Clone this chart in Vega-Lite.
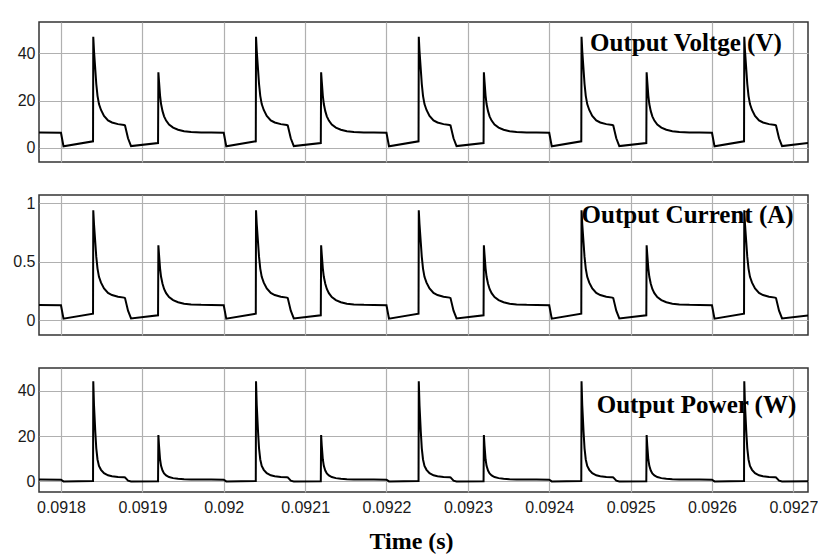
{
"$schema":"https://vega.github.io/schema/vega-lite/v6.json",
"padding":{"left":12,"top":21,"right":11,"bottom":6},
"background":"white",
"spacing":31,
"config":{
 "view":{"stroke":"#333333","strokeWidth":1.5},
 "axis":{"labelFont":"Liberation Sans","labelFontSize":16,"labelColor":"#1a1a1a","gridColor":"#b0b0b0","gridWidth":1.2,"gridOpacity":1,"domain":false,"ticks":false,"title":null}
},
"datasets":{"w":[
{"t":0.091773,"v":6.4,"i":0.128,"p":0.82},
{"t":0.0918,"v":6.3,"i":0.126,"p":0.79},{"t":0.0918031,"v":0.6,"i":0.012,"p":0.007},{"t":0.0918394,"v":2.7,"i":0.054,"p":0.146},{"t":0.0918397,"v":47,"i":0.94,"p":44.18},{"t":0.0918406,"v":41,"i":0.82,"p":33.62},{"t":0.0918422,"v":33,"i":0.66,"p":21.78},{"t":0.0918434,"v":27,"i":0.54,"p":14.58},{"t":0.0918449,"v":22,"i":0.44,"p":9.68},{"t":0.0918467,"v":18.5,"i":0.37,"p":6.85},{"t":0.0918492,"v":16,"i":0.32,"p":5.12},{"t":0.0918529,"v":13.5,"i":0.27,"p":3.65},{"t":0.0918578,"v":11.6,"i":0.232,"p":2.69},{"t":0.0918627,"v":10.7,"i":0.214,"p":2.29},{"t":0.0918701,"v":10,"i":0.2,"p":2},{"t":0.0918775,"v":9.6,"i":0.192,"p":1.84},{"t":0.0918787,"v":9.4,"i":0.188,"p":1.77},{"t":0.0918824,"v":4,"i":0.08,"p":0.32},{"t":0.0918861,"v":0.7,"i":0.014,"p":0.01},{"t":0.0919193,"v":2,"i":0.04,"p":0.08},{"t":0.0919197,"v":32,"i":0.64,"p":20.48},{"t":0.0919205,"v":28,"i":0.56,"p":15.68},{"t":0.0919218,"v":22,"i":0.44,"p":9.68},{"t":0.091923,"v":18.5,"i":0.37,"p":6.85},{"t":0.0919248,"v":15.5,"i":0.31,"p":4.81},{"t":0.0919267,"v":13.3,"i":0.266,"p":3.54},{"t":0.0919292,"v":11.5,"i":0.23,"p":2.65},{"t":0.0919328,"v":9.8,"i":0.196,"p":1.92},{"t":0.0919378,"v":8.5,"i":0.17,"p":1.45},{"t":0.0919439,"v":7.6,"i":0.152,"p":1.16},{"t":0.0919513,"v":7,"i":0.14,"p":0.98},{"t":0.0919599,"v":6.7,"i":0.134,"p":0.9},{"t":0.0919722,"v":6.5,"i":0.13,"p":0.85},{"t":0.0919845,"v":6.4,"i":0.128,"p":0.82},
{"t":0.092,"v":6.3,"i":0.126,"p":0.79},{"t":0.0920031,"v":0.6,"i":0.012,"p":0.007},{"t":0.0920394,"v":2.7,"i":0.054,"p":0.146},{"t":0.0920397,"v":47,"i":0.94,"p":44.18},{"t":0.0920406,"v":41,"i":0.82,"p":33.62},{"t":0.0920422,"v":33,"i":0.66,"p":21.78},{"t":0.0920434,"v":27,"i":0.54,"p":14.58},{"t":0.0920449,"v":22,"i":0.44,"p":9.68},{"t":0.0920467,"v":18.5,"i":0.37,"p":6.85},{"t":0.0920492,"v":16,"i":0.32,"p":5.12},{"t":0.0920529,"v":13.5,"i":0.27,"p":3.65},{"t":0.0920578,"v":11.6,"i":0.232,"p":2.69},{"t":0.0920627,"v":10.7,"i":0.214,"p":2.29},{"t":0.0920701,"v":10,"i":0.2,"p":2},{"t":0.0920775,"v":9.6,"i":0.192,"p":1.84},{"t":0.0920787,"v":9.4,"i":0.188,"p":1.77},{"t":0.0920824,"v":4,"i":0.08,"p":0.32},{"t":0.0920861,"v":0.7,"i":0.014,"p":0.01},{"t":0.0921193,"v":2,"i":0.04,"p":0.08},{"t":0.0921197,"v":32,"i":0.64,"p":20.48},{"t":0.0921205,"v":28,"i":0.56,"p":15.68},{"t":0.0921218,"v":22,"i":0.44,"p":9.68},{"t":0.092123,"v":18.5,"i":0.37,"p":6.85},{"t":0.0921248,"v":15.5,"i":0.31,"p":4.81},{"t":0.0921267,"v":13.3,"i":0.266,"p":3.54},{"t":0.0921292,"v":11.5,"i":0.23,"p":2.65},{"t":0.0921328,"v":9.8,"i":0.196,"p":1.92},{"t":0.0921378,"v":8.5,"i":0.17,"p":1.45},{"t":0.0921439,"v":7.6,"i":0.152,"p":1.16},{"t":0.0921513,"v":7,"i":0.14,"p":0.98},{"t":0.0921599,"v":6.7,"i":0.134,"p":0.9},{"t":0.0921722,"v":6.5,"i":0.13,"p":0.85},{"t":0.0921845,"v":6.4,"i":0.128,"p":0.82},
{"t":0.0922,"v":6.3,"i":0.126,"p":0.79},{"t":0.0922031,"v":0.6,"i":0.012,"p":0.007},{"t":0.0922394,"v":2.7,"i":0.054,"p":0.146},{"t":0.0922397,"v":47,"i":0.94,"p":44.18},{"t":0.0922406,"v":41,"i":0.82,"p":33.62},{"t":0.0922422,"v":33,"i":0.66,"p":21.78},{"t":0.0922434,"v":27,"i":0.54,"p":14.58},{"t":0.0922449,"v":22,"i":0.44,"p":9.68},{"t":0.0922467,"v":18.5,"i":0.37,"p":6.85},{"t":0.0922492,"v":16,"i":0.32,"p":5.12},{"t":0.0922529,"v":13.5,"i":0.27,"p":3.65},{"t":0.0922578,"v":11.6,"i":0.232,"p":2.69},{"t":0.0922627,"v":10.7,"i":0.214,"p":2.29},{"t":0.0922701,"v":10,"i":0.2,"p":2},{"t":0.0922775,"v":9.6,"i":0.192,"p":1.84},{"t":0.0922787,"v":9.4,"i":0.188,"p":1.77},{"t":0.0922824,"v":4,"i":0.08,"p":0.32},{"t":0.0922861,"v":0.7,"i":0.014,"p":0.01},{"t":0.0923193,"v":2,"i":0.04,"p":0.08},{"t":0.0923197,"v":32,"i":0.64,"p":20.48},{"t":0.0923205,"v":28,"i":0.56,"p":15.68},{"t":0.0923218,"v":22,"i":0.44,"p":9.68},{"t":0.092323,"v":18.5,"i":0.37,"p":6.85},{"t":0.0923248,"v":15.5,"i":0.31,"p":4.81},{"t":0.0923267,"v":13.3,"i":0.266,"p":3.54},{"t":0.0923292,"v":11.5,"i":0.23,"p":2.65},{"t":0.0923328,"v":9.8,"i":0.196,"p":1.92},{"t":0.0923378,"v":8.5,"i":0.17,"p":1.45},{"t":0.0923439,"v":7.6,"i":0.152,"p":1.16},{"t":0.0923513,"v":7,"i":0.14,"p":0.98},{"t":0.0923599,"v":6.7,"i":0.134,"p":0.9},{"t":0.0923722,"v":6.5,"i":0.13,"p":0.85},{"t":0.0923845,"v":6.4,"i":0.128,"p":0.82},
{"t":0.0924,"v":6.3,"i":0.126,"p":0.79},{"t":0.0924031,"v":0.6,"i":0.012,"p":0.007},{"t":0.0924394,"v":2.7,"i":0.054,"p":0.146},{"t":0.0924397,"v":47,"i":0.94,"p":44.18},{"t":0.0924406,"v":41,"i":0.82,"p":33.62},{"t":0.0924422,"v":33,"i":0.66,"p":21.78},{"t":0.0924434,"v":27,"i":0.54,"p":14.58},{"t":0.0924449,"v":22,"i":0.44,"p":9.68},{"t":0.0924467,"v":18.5,"i":0.37,"p":6.85},{"t":0.0924492,"v":16,"i":0.32,"p":5.12},{"t":0.0924529,"v":13.5,"i":0.27,"p":3.65},{"t":0.0924578,"v":11.6,"i":0.232,"p":2.69},{"t":0.0924627,"v":10.7,"i":0.214,"p":2.29},{"t":0.0924701,"v":10,"i":0.2,"p":2},{"t":0.0924775,"v":9.6,"i":0.192,"p":1.84},{"t":0.0924787,"v":9.4,"i":0.188,"p":1.77},{"t":0.0924824,"v":4,"i":0.08,"p":0.32},{"t":0.0924861,"v":0.7,"i":0.014,"p":0.01},{"t":0.0925193,"v":2,"i":0.04,"p":0.08},{"t":0.0925197,"v":32,"i":0.64,"p":20.48},{"t":0.0925205,"v":28,"i":0.56,"p":15.68},{"t":0.0925218,"v":22,"i":0.44,"p":9.68},{"t":0.092523,"v":18.5,"i":0.37,"p":6.85},{"t":0.0925248,"v":15.5,"i":0.31,"p":4.81},{"t":0.0925267,"v":13.3,"i":0.266,"p":3.54},{"t":0.0925292,"v":11.5,"i":0.23,"p":2.65},{"t":0.0925328,"v":9.8,"i":0.196,"p":1.92},{"t":0.0925378,"v":8.5,"i":0.17,"p":1.45},{"t":0.0925439,"v":7.6,"i":0.152,"p":1.16},{"t":0.0925513,"v":7,"i":0.14,"p":0.98},{"t":0.0925599,"v":6.7,"i":0.134,"p":0.9},{"t":0.0925722,"v":6.5,"i":0.13,"p":0.85},{"t":0.0925845,"v":6.4,"i":0.128,"p":0.82},
{"t":0.0926,"v":6.3,"i":0.126,"p":0.79},{"t":0.0926031,"v":0.6,"i":0.012,"p":0.007},{"t":0.0926394,"v":2.7,"i":0.054,"p":0.146},{"t":0.0926397,"v":47,"i":0.94,"p":44.18},{"t":0.0926406,"v":41,"i":0.82,"p":33.62},{"t":0.0926422,"v":33,"i":0.66,"p":21.78},{"t":0.0926434,"v":27,"i":0.54,"p":14.58},{"t":0.0926449,"v":22,"i":0.44,"p":9.68},{"t":0.0926467,"v":18.5,"i":0.37,"p":6.85},{"t":0.0926492,"v":16,"i":0.32,"p":5.12},{"t":0.0926529,"v":13.5,"i":0.27,"p":3.65},{"t":0.0926578,"v":11.6,"i":0.232,"p":2.69},{"t":0.0926627,"v":10.7,"i":0.214,"p":2.29},{"t":0.0926701,"v":10,"i":0.2,"p":2},{"t":0.0926775,"v":9.6,"i":0.192,"p":1.84},{"t":0.0926787,"v":9.4,"i":0.188,"p":1.77},{"t":0.0926824,"v":4,"i":0.08,"p":0.32},{"t":0.0926861,"v":0.7,"i":0.014,"p":0.01},{"t":0.092718,"v":1.98,"i":0.0396,"p":0.078}
]},
"vconcat":[
{"width":769,"height":140,"layer":[
 {"data":{"name":"w"},"mark":{"type":"line","color":"black","strokeWidth":2,"clip":true},
  "encoding":{"x":{"field":"t","type":"quantitative","scale":{"domain":[0.091773,0.092718],"nice":false,"zero":false},"axis":{"values":[0.0918,0.0919,0.092,0.0921,0.0922,0.0923,0.0924,0.0925,0.0926,0.0927],"labels":false}},
   "y":{"field":"v","type":"quantitative","scale":{"domain":[-6.06,53.3],"nice":false,"zero":false},"axis":{"values":[0,20,40],"labelPadding":4,"format":".1~f"}}}},
 {"data":{"values":[{"t":0.092568,"v":44.4,"label":"Output Voltge (V)"}]},"mark":{"type":"text","font":"Liberation Serif","fontWeight":"bold","fontSize":25,"color":"black","baseline":"middle"},
  "encoding":{"x":{"field":"t","type":"quantitative"},"y":{"field":"v","type":"quantitative"},"text":{"field":"label"}}}
]},
{"width":769,"height":140,"layer":[
 {"data":{"name":"w"},"mark":{"type":"line","color":"black","strokeWidth":2,"clip":true},
  "encoding":{"x":{"field":"t","type":"quantitative","scale":{"domain":[0.091773,0.092718],"nice":false,"zero":false},"axis":{"values":[0.0918,0.0919,0.092,0.0921,0.0922,0.0923,0.0924,0.0925,0.0926,0.0927],"labels":false}},
   "y":{"field":"i","type":"quantitative","scale":{"domain":[-0.128,1.07],"nice":false,"zero":false},"axis":{"values":[0,0.5,1],"labelPadding":4,"format":".1~f"}}}},
 {"data":{"values":[{"t":0.09257,"i":0.898,"label":"Output Current (A)"}]},"mark":{"type":"text","font":"Liberation Serif","fontWeight":"bold","fontSize":25,"color":"black","baseline":"middle"},
  "encoding":{"x":{"field":"t","type":"quantitative"},"y":{"field":"i","type":"quantitative"},"text":{"field":"label"}}}
]},
{"width":769,"height":124,"layer":[
 {"data":{"name":"w"},"mark":{"type":"line","color":"black","strokeWidth":2,"clip":true},
  "encoding":{"x":{"field":"t","type":"quantitative","scale":{"domain":[0.091773,0.092718],"nice":false,"zero":false},"axis":{"values":[0.0918,0.0919,0.092,0.0921,0.0922,0.0923,0.0924,0.0925,0.0926,0.0927],"format":".4~f","labelPadding":7,"title":"Time (s)","titleFont":"Liberation Serif","titleFontWeight":"bold","titleFontSize":24,"titleColor":"black","titleX":372,"titleY":49,"titleBaseline":"middle"}},
   "y":{"field":"p","type":"quantitative","scale":{"domain":[-4.66,50],"nice":false,"zero":false},"axis":{"values":[0,20,40],"labelPadding":4,"format":".1~f"}}}},
 {"data":{"values":[{"t":0.092581,"p":33.7,"label":"Output Power (W)"}]},"mark":{"type":"text","font":"Liberation Serif","fontWeight":"bold","fontSize":25,"color":"black","baseline":"middle"},
  "encoding":{"x":{"field":"t","type":"quantitative"},"y":{"field":"p","type":"quantitative"},"text":{"field":"label"}}}
]}
]
}
